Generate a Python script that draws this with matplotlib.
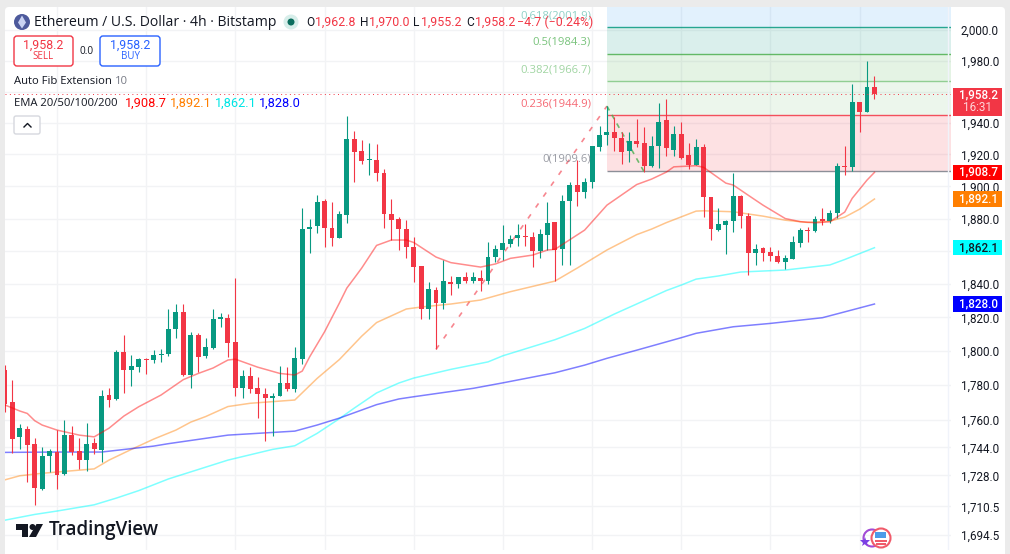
import matplotlib
matplotlib.use('Agg')
import matplotlib.pyplot as plt
from matplotlib.patches import Circle, FancyBboxPatch, Polygon, Rectangle, Arc

plt.rcParams['font.family'] = ['Open Sans', 'DejaVu Sans']

# candles, one row per 4h bar
opens = [1788.8, 1769.9, 1749.9, 1754.6, 1745.8, 1720.3, 1739.2, 1741.1, 1728.8, 1751.0,
         1741.7, 1736.9, 1746.2, 1742.6, 1774.0, 1771.7, 1799.4, 1789.0, 1790.7, 1795.2,
         1794.8, 1797.8, 1798.0, 1813.2, 1823.2, 1785.9, 1809.5, 1797.0, 1801.9, 1819.2,
         1819.8, 1805.1, 1778.1, 1785.5, 1778.1, 1774.6, 1772.3, 1773.8, 1781.3, 1777.5,
         1795.2, 1873.3, 1875.5, 1890.6, 1874.3, 1868.0, 1882.3, 1929.5, 1922.0, 1916.6,
         1916.4, 1908.5, 1883.1, 1880.0, 1873.3, 1862.7, 1850.8, 1825.2, 1836.4, 1828.6,
         1841.4, 1840.0, 1844.0, 1842.0, 1843.4, 1841.6, 1856.6, 1860.7, 1864.5, 1868.0,
         1869.2, 1868.8, 1860.1, 1870.0, 1877.6, 1861.5, 1890.8, 1900.6, 1896.4, 1902.6,
         1924.8, 1932.1, 1934.0, 1930.6, 1922.0, 1928.4, 1927.0, 1912.5, 1925.1, 1941.8,
         1922.7, 1932.9, 1919.4, 1913.5, 1924.8, 1893.3, 1872.7, 1876.0, 1878.4, 1894.2,
         1881.5, 1859.0, 1861.7, 1859.5, 1857.2, 1853.4, 1855.4, 1865.2, 1872.9, 1872.3,
         1879.6, 1878.8, 1883.2, 1912.9, 1912.0, 1953.1, 1947.1, 1962.8]
highs = [1791.7, 1782.9, 1757.4, 1756.2, 1749.1, 1744.3, 1743.0, 1753.9, 1760.0, 1756.2,
         1749.4, 1757.8, 1749.1, 1777.1, 1778.1, 1800.5, 1809.5, 1797.4, 1795.8, 1795.8,
         1800.9, 1801.5, 1825.0, 1828.0, 1828.0, 1811.4, 1810.5, 1807.5, 1824.8, 1822.4,
         1821.8, 1843.5, 1788.8, 1790.7, 1784.5, 1778.1, 1775.2, 1791.3, 1790.4, 1802.1,
         1886.3, 1880.0, 1894.5, 1892.0, 1890.0, 1884.8, 1944.3, 1934.8, 1929.1, 1927.4,
         1926.5, 1910.6, 1892.0, 1880.7, 1879.4, 1868.8, 1851.0, 1841.0, 1838.0, 1854.6,
         1844.9, 1844.4, 1847.3, 1847.3, 1848.5, 1865.4, 1863.7, 1876.0, 1869.8, 1876.6,
         1876.6, 1871.5, 1873.3, 1890.0, 1877.8, 1894.3, 1902.6, 1916.4, 1905.5, 1925.5,
         1938.0, 1950.7, 1943.9, 1934.0, 1934.2, 1942.4, 1937.5, 1931.6, 1952.5, 1955.0,
         1938.0, 1940.3, 1927.0, 1929.5, 1926.5, 1893.5, 1886.5, 1879.0, 1908.1, 1894.3,
         1883.5, 1864.3, 1862.7, 1862.3, 1860.7, 1857.6, 1869.2, 1874.3, 1874.7, 1881.5,
         1886.3, 1885.2, 1914.4, 1925.3, 1964.9, 1953.5, 1979.7, 1970.0]
lows = [1764.5, 1740.7, 1743.2, 1724.0, 1711.2, 1720.0, 1729.8, 1720.3, 1728.5, 1739.6,
        1731.8, 1730.3, 1740.3, 1735.8, 1767.4, 1771.3, 1775.2, 1779.6, 1787.8, 1786.3,
        1792.7, 1793.3, 1797.2, 1807.5, 1785.6, 1778.4, 1787.8, 1795.7, 1801.5, 1814.1,
        1796.6, 1773.6, 1772.6, 1775.5, 1760.6, 1747.7, 1750.5, 1773.6, 1776.7, 1776.1,
        1792.1, 1859.0, 1870.9, 1862.7, 1863.3, 1867.8, 1877.4, 1902.4, 1913.7, 1907.0,
        1903.5, 1874.3, 1866.8, 1860.7, 1856.0, 1841.4, 1819.0, 1819.0, 1801.0, 1824.8,
        1833.4, 1837.8, 1840.8, 1840.8, 1836.0, 1840.0, 1853.6, 1854.6, 1862.7, 1863.1,
        1863.1, 1850.5, 1856.0, 1860.7, 1841.8, 1851.7, 1851.4, 1887.9, 1892.9, 1899.1,
        1922.3, 1925.7, 1922.0, 1913.7, 1915.4, 1924.4, 1909.1, 1912.2, 1911.6, 1919.2,
        1919.0, 1917.2, 1911.0, 1913.3, 1881.0, 1866.8, 1872.6, 1858.4, 1871.7, 1874.3,
        1845.5, 1851.4, 1854.0, 1854.2, 1852.6, 1849.1, 1855.2, 1862.5, 1865.7, 1871.9,
        1876.0, 1877.4, 1880.1, 1907.0, 1909.5, 1934.2, 1946.9, 1955.2]
closes = [1768.8, 1748.9, 1755.2, 1745.1, 1720.9, 1739.2, 1741.7, 1728.4, 1751.0, 1741.4,
          1736.9, 1745.8, 1743.0, 1773.6, 1771.3, 1799.4, 1789.0, 1791.0, 1795.1, 1794.7,
          1797.8, 1798.4, 1812.9, 1823.2, 1785.9, 1809.5, 1796.6, 1802.1, 1819.2, 1820.0,
          1804.5, 1778.1, 1785.3, 1777.9, 1775.0, 1772.3, 1773.6, 1781.0, 1777.9, 1795.7,
          1873.3, 1874.7, 1890.0, 1873.9, 1868.0, 1882.7, 1929.5, 1921.7, 1915.8, 1917.1,
          1908.1, 1882.7, 1879.4, 1873.5, 1862.5, 1850.5, 1825.2, 1836.8, 1828.6, 1841.8,
          1840.0, 1844.0, 1842.0, 1844.0, 1841.6, 1856.6, 1861.1, 1864.8, 1867.6, 1869.7,
          1868.4, 1860.1, 1870.5, 1877.0, 1860.7, 1890.8, 1900.6, 1896.4, 1902.6, 1925.3,
          1932.3, 1934.0, 1930.2, 1921.7, 1928.4, 1926.7, 1912.5, 1925.5, 1940.3, 1924.0,
          1932.9, 1917.9, 1913.5, 1924.8, 1893.5, 1873.3, 1876.6, 1878.2, 1893.9, 1881.5,
          1859.0, 1861.3, 1859.0, 1857.0, 1853.4, 1855.8, 1865.6, 1872.7, 1872.3, 1879.8,
          1878.2, 1883.2, 1912.9, 1912.2, 1953.1, 1946.7, 1962.8, 1958.2]

ema20_bars = [0, 2, 3, 4, 5, 7, 10, 12, 14, 16, 18, 21, 24, 26, 28, 30, 31, 34, 37, 39, 40, 41, 43, 45,
              46, 47, 48, 50, 52, 54, 55, 58, 60, 64, 66, 68, 71, 73, 74, 78, 81, 85, 87, 89, 90, 93,
              94, 97, 98, 100, 102, 105, 107, 109, 111, 113, 114, 116, 117]
ema20 = [1768.4, 1764.9, 1763.5, 1759.3, 1756.8, 1753.9, 1751.0, 1750.0, 1755.0, 1762.0, 1767.4, 1774.2,
         1783.2, 1786.8, 1790.0, 1794.7, 1795.2, 1790.5, 1786.8, 1785.9, 1788.2, 1796.6, 1811.4, 1828.6,
         1837.6, 1843.6, 1849.7, 1863.5, 1866.8, 1866.8, 1865.3, 1856.4, 1853.0, 1850.3, 1852.2, 1855.6,
         1857.6, 1860.7, 1861.1, 1872.9, 1888.3, 1901.1, 1904.5, 1908.9, 1912.2, 1912.9, 1911.9, 1902.0,
         1900.8, 1894.5, 1888.3, 1880.0, 1878.1, 1877.4, 1878.0, 1884.0, 1892.5, 1903.9, 1908.7]
ema50_bars = [0, 2, 5, 12, 14, 17, 20, 23, 25, 27, 30, 33, 39, 42, 45, 48, 50, 54, 56, 60, 64, 68, 74,
              77, 81, 85, 87, 89, 93, 94, 98, 102, 105, 108, 111, 113, 115, 117]
ema50 = [1725.5, 1727.8, 1729.2, 1731.7, 1736.7, 1742.8, 1748.7, 1753.9, 1758.5, 1761.7, 1767.5, 1769.4,
         1771.3, 1783.9, 1795.0, 1808.8, 1816.9, 1825.0, 1826.2, 1828.0, 1830.4, 1835.4, 1841.8, 1849.7,
         1860.7, 1870.1, 1873.5, 1877.5, 1884.6, 1884.8, 1884.2, 1881.5, 1879.0, 1877.6, 1878.4, 1880.9,
         1885.8, 1892.1]
ema100_bars = [0, 4, 7, 12, 15, 18, 22, 30, 36, 39, 42, 45, 47, 50, 53, 55, 60, 65, 67, 74, 78, 82, 85,
               89, 91, 93, 96, 99, 105, 111, 113, 117]
ema100 = [1702.8, 1706.0, 1707.9, 1711.4, 1715.2, 1719.4, 1726.0, 1736.7, 1742.8, 1744.9, 1752.0, 1760.5,
          1766.6, 1775.4, 1781.2, 1784.1, 1789.2, 1793.6, 1797.2, 1806.7, 1813.4, 1822.0, 1828.0, 1836.1,
          1839.4, 1843.0, 1844.9, 1847.3, 1848.5, 1851.6, 1854.9, 1862.1]
ema200_bars = [0, 7, 13, 20, 22, 30, 39, 42, 45, 50, 53, 55, 63, 67, 74, 78, 81, 85, 91, 93, 98, 103,
               110, 113, 117]
ema200 = [1741.1, 1741.3, 1741.3, 1744.7, 1746.1, 1751.0, 1753.3, 1756.8, 1760.8, 1768.6, 1771.9, 1773.2,
          1778.1, 1781.3, 1787.2, 1791.7, 1795.7, 1800.5, 1807.9, 1810.5, 1814.4, 1816.4, 1819.8, 1823.3,
          1828.0]

fib_ratios = ['0', '0.236', '0.382', '0.5', '0.618']
fib_prices = [1909.6, 1944.9, 1966.7, 1984.3, 2001.9]
tick_values = [2000, 1980, 1960, 1940, 1920, 1900, 1880, 1860, 1840, 1820, 1800, 1780, 1760, 1744, 1728,
               1710.5, 1694.5]
# these two sit right under the price tags
hidden_ticks = [1960, 1860]
last_price = 1958.2

green = '#089981'
red = '#f23645'
fib_colors = ['#787b86', '#f23645', '#81c784', '#4caf50', '#089981']
num_font = 'Roboto'
W, H = 1010, 554

fig = plt.figure(figsize=(W / 100, H / 100), dpi=100, facecolor='#ebebeb')

# white card behind everything
bg = fig.add_axes([0, 0, 1, 1], zorder=0)
bg.set_xlim(0, W)
bg.set_ylim(H, 0)
bg.axis('off')
bg.add_patch(FancyBboxPatch((8, 10), 994, 560, boxstyle='round,pad=3,rounding_size=4', fc='white', ec='none'))

# main price pane: 5..951 px wide, 7..550 px tall
ax = fig.add_axes([5 / W, 1 - 550 / H, 946 / W, 543 / H], zorder=1)
ax.patch.set_alpha(0)
ax.set_yscale('log')
ax.set_ylim(1686.2, 2015.2)
ax.set_xlim(0, 127.3)
ax.set_axisbelow(True)
for s in ax.spines.values():
    s.set_visible(False)
ax.minorticks_off()
ax.set_yticks(tick_values, ['' if v in hidden_ticks else f'{v:,.1f}' for v in tick_values], family=num_font)
ax.set_yticks([], minor=True)
ax.set_xticks(range(7, 127, 12), [])
ax.yaxis.tick_right()
ax.tick_params(axis='both', length=0)
ax.tick_params(axis='y', pad=7, labelsize=8.4, labelcolor='#131722')
ax.grid(True, color='#f2f3f5', lw=1)

# fib extension zones
fib_left = 81
fib_right = ax.get_xlim()[1]
fill_cols = ['#f23645', '#81c784', '#4caf50', '#089981']
for i in range(4):
    ax.fill_between([fib_left, fib_right], fib_prices[i], fib_prices[i + 1], color=fill_cols[i],
                    alpha=0.15, lw=0, zorder=1)
ax.fill_between([fib_left, fib_right], fib_prices[4], ax.get_ylim()[1], color='#2196f3', alpha=0.13, lw=0, zorder=1)
for p, c, r in zip(fib_prices, fib_colors, fib_ratios):
    ax.hlines(p, fib_left, fib_right, color=c, lw=1.0, alpha=0.85, zorder=2)
    ax.annotate(f'{r}({p})', (fib_left, p), xytext=(-11.5, 8.4), textcoords='offset points', ha='right', va='center',
                color=c, alpha=0.75 if r != '0.618' else 0.45, fontsize=8.1, zorder=6)

# auto fib trend lines
ax.plot([58, 81], [lows[58], highs[81]], color=red, alpha=0.6, lw=1.2, ls=(0, (3, 5)), zorder=2.5)
ax.plot([81, 86], [highs[81], lows[86]], color='#4caf50', alpha=0.8, lw=1.2, ls=(0, (3, 3)), zorder=2.5)

# emas
ax.plot(ema20_bars, ema20, color='#ff0000', alpha=0.45, lw=1.1, zorder=5)
ax.plot(ema50_bars, ema50, color='#ff7f00', alpha=0.45, lw=1.1, zorder=3)
ax.plot(ema100_bars, ema100, color='#00ffff', alpha=0.5, lw=1.1, zorder=3)
ax.plot(ema200_bars, ema200, color='#0000ff', alpha=0.5, lw=1.1, zorder=3)

# candles
for i in range(len(opens)):
    col = green if closes[i] >= opens[i] else red
    ax.vlines(i, lows[i], highs[i], color=col, lw=0.8, zorder=4)
    ax.bar(i, abs(closes[i] - opens[i]), bottom=min(opens[i], closes[i]), width=0.66, color=col, lw=0, zorder=4.2)

# last price dotted line
ax.axhline(last_price, color=red, lw=0.7, ls=(0, (1, 3.5)), zorder=5)
ax.axvline(fib_right - 0.4, color='#f0f3fa', lw=1, zorder=3)

# overlay in pixel coordinates for the tv chrome
ov = fig.add_axes([0, 0, 1, 1], zorder=3)
ov.set_xlim(0, W)
ov.set_ylim(H, 0)
ov.axis('off')
ov.patch.set_alpha(0)


def label(x, y, s, color='#131722', size=8.4, ha='left', **kw):
    ov.text(x, y, s, color=color, fontsize=size, ha=ha, va='center', **kw)


def price_y(p):
    return H - ax.transData.transform((0, p))[1]


# price tags on the scale
tags = [(1908.7, '#ff0000', 'white'), (1892.1, '#ff7f00', 'white'), (1862.1, '#00ffff', '#131722'),
        (1828.0, '#0000ff', 'white')]
for p, c, tc in tags:
    y = price_y(p)
    ov.add_patch(Rectangle((953, y - 7.7), 49, 15.4, fc=c, ec='none'))
    label(978, y, f'{p:,.1f}', color=tc, ha='center', fontweight='medium', family=num_font)
y = price_y(last_price)
ov.add_patch(Rectangle((953, y - 6.5), 49, 28, fc=red, ec='none'))
label(978, y + 1, f'{last_price:,.1f}', color='white', ha='center', fontweight='medium', family=num_font)
label(978, y + 13.5, '16:31', color='#ffd5d9', ha='center', family=num_font)

# title row
ov.add_patch(Circle((22, 22), 8, fc='#4d5a9c', ec='none'))
ov.add_patch(Polygon([(22, 15.5), (26, 22.5), (22, 28.5), (18, 22.5)], fc='#c9d2f2', ec='none'))
label(33.5, 22, 'Ethereum / U.S. Dollar · 4h · Bitstamp', size=10.05)
ov.add_patch(Circle((291, 22), 7.5, fc='#d7eeea', ec='none'))
ov.add_patch(Circle((291, 22), 3.5, fc='#0b6e5e', ec='none'))
ohlc = [(306, 'O', '1,962.8'), (360, 'H', '1,970.0'), (413, 'L', '1,955.2'), (466, 'C', '1,958.2')]
for x, a, b in ohlc:
    label(x, 22, a, size=8.6, family=num_font)
    label(x + 8.5, 22, b, color=red, size=8.9, family=num_font)
label(517, 22, '−4.7 (−0.24%)', color=red, size=8.9, family=num_font)

# sell and buy boxes
for x0, x1, c, t in [(14, 73, red, 'SELL'), (100, 160, '#2962ff', 'BUY')]:
    ov.add_patch(FancyBboxPatch((x0 + 2, 38), x1 - x0 - 4, 26, boxstyle='round,pad=2,rounding_size=3', fc='white',
                                ec=c, lw=1))
    label((x0 + x1) / 2, 45, '1,958.2', color=c, ha='center', size=8.9, family=num_font)
    label((x0 + x1) / 2, 56.5, t, color=c, ha='center', size=7)
label(86.5, 51.5, '0.0', ha='center', size=7.2)

label(14, 81, 'Auto Fib Extension', size=8.1)
label(114.5, 81, '10', color='#787b86', size=8.1)
label(14, 103, 'EMA 20/50/100/200', size=8.1)
for x, s, c in [(125, '1,908.7', '#ff0000'), (170, '1,892.1', '#ff7f00'), (215, '1,862.1', '#00e5e5'),
                (259, '1,828.0', '#0000ff')]:
    label(x, 103, s, color=c, size=9.2, family=num_font)
ov.add_patch(FancyBboxPatch((16, 118), 22, 14, boxstyle='round,pad=2,rounding_size=2', fc='white', ec='#d6d8de', lw=1))
ov.plot([24, 27.5, 31], [127, 123.5, 127], color='#131722', lw=1)

# tradingview logo
ov.add_patch(Polygon([(16, 524), (28, 524), (28, 537), (22, 537), (22, 530), (16, 530)], fc='#131722', ec='none'))
ov.add_patch(Circle((32.5, 527), 3, fc='#131722', ec='none'))
ov.add_patch(Polygon([(36.5, 524), (43, 524), (36, 537), (29, 537)], fc='#131722', ec='none'))
label(49, 530.5, 'TradingView', size=13.5, fontweight='semibold')

# little event badge at the bottom
ov.add_patch(Arc((872, 538), 17, 17, theta1=60, theta2=300, color='#a24bd6', lw=1.5))
ov.plot([865], [542], marker='*', color='#7b3fe4', ms=7, mew=0)
ov.add_patch(Circle((881, 538), 9.5, fc='white', ec='#f05a6a', lw=1.5))
ov.add_patch(Rectangle((875, 532), 11, 6, fc='#4c9be8', ec='none'))
ov.add_patch(Rectangle((875, 539.5), 12, 2, fc='#f05a6a', ec='none'))
ov.add_patch(Rectangle((876, 543), 10, 1.5, fc='#f05a6a', ec='none'))

fig.savefig('out.png', dpi=100, facecolor=fig.get_facecolor())
